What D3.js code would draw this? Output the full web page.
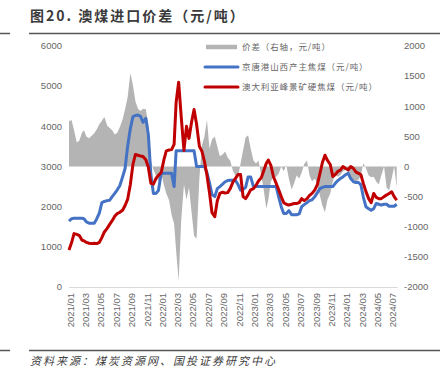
<!DOCTYPE html>
<html>
<head>
<meta charset="utf-8">
<script src="https://cdnjs.cloudflare.com/ajax/libs/d3/7.8.5/d3.min.js"></script>
<style>
  html, body { margin: 0; padding: 0; background: #fff; }
  svg { display: block; font-family: "Liberation Sans", Arial, sans-serif; }
</style>
</head>
<body>
<svg id="chart" width="445" height="378"></svg>
<script>
// ---------- data (sampled on the 1st, 11th and 21st of each month, 2021/01 .. 2024/07) ----------
const domesticCoking = [
  1640,1700,1710,1710,1710,1710,1700,1620,1590,1590,1590,1700,
  1840,2100,2130,2150,2160,2250,2330,2420,2520,2740,2950,3500,
  3950,4240,4270,4280,4250,4100,4200,3800,2800,2330,2330,2400,
  2830,2830,2830,2830,2830,2500,3390,3390,3390,3390,3390,3390,
  3390,3390,3000,3000,3000,3000,2850,2600,2300,2250,2450,2500,
  2560,2620,2650,2660,2660,2660,2550,2410,2430,2480,2740,2740,
  2500,2500,2500,2500,2500,2500,2500,2500,2500,2500,2240,2000,
  1830,1830,1900,1800,1800,1800,1820,2000,2050,2100,2150,2170,
  2250,2350,2450,2480,2500,2500,2500,2500,2580,2650,2700,2740,
  2800,2830,2700,2620,2600,2600,2550,2240,2000,1950,1910,1950,
  2080,2060,2040,2060,2060,2010,2010,2010,2060
];
const australianCoking = [
  920,1100,1330,1310,1280,1170,1150,1110,1090,1080,1090,1080,
  1110,1230,1370,1460,1560,1650,1760,1830,1860,1910,2030,2180,
  2560,3050,3300,3280,3260,3250,3170,2980,2580,2560,2700,2780,
  2850,3150,3390,3410,3420,3550,4600,5100,4250,3400,4000,3700,
  4100,4420,4050,3500,3380,3130,2780,2350,1850,1750,2150,2330,
  2360,2340,2350,2450,2600,2700,2800,2800,2250,2200,2300,2420,
  2450,2530,2640,2720,2900,3080,3160,3030,2750,2580,2420,2250,
  2100,2060,2040,2060,2080,2080,2100,2200,2150,2200,2280,2330,
  2420,2550,2820,3100,3280,3150,3050,2750,2800,2880,2910,3000,
  2950,2920,3000,2950,2860,2830,2800,2580,2380,2200,2100,2330,
  2230,2200,2200,2250,2290,2330,2370,2250,2160
];
const spread = [
  750,770,600,400,430,560,600,500,470,510,550,620,
  700,760,820,680,640,600,530,560,650,780,950,1150,
  1550,1350,1080,960,920,960,950,700,100,-50,-150,-250,
  -100,-300,-450,-560,-800,-950,-1400,-1900,-900,-300,-550,-350,
  -750,-1150,-1200,-200,350,500,770,300,450,500,330,170,
  200,250,150,100,-60,-150,-170,50,270,480,520,300,
  100,50,100,-150,-400,-700,-550,-250,-180,-170,-120,0,
  -80,30,-200,-380,-280,-150,-200,-100,40,100,-150,-250,
  -200,-300,-480,-650,-760,-550,-450,-250,-120,-170,-140,-80,
  -60,-100,-180,-220,-250,-220,-150,50,-20,-150,-180,-170,
  -250,-300,-150,0,-350,-400,-200,0,-350
];
const tickLabels = ["2021/01","2021/03","2021/05","2021/07","2021/09","2021/11",
  "2022/01","2022/03","2022/05","2022/07","2022/09","2022/11",
  "2023/01","2023/03","2023/05","2023/07","2023/09","2023/11",
  "2024/01","2024/03","2024/05","2024/07"];
const leftTicks = [0,1000,2000,3000,4000,5000,6000];
const rightTicks = [-2000,-1500,-1000,-500,0,500,1000,1500,2000];
const legendLabels = ["价差（右轴，元/吨）","京唐港山西产主焦煤（元/吨）","澳大利亚峰景矿硬焦煤（元/吨）"];
const titleText = "图20. 澳煤进口价差（元/吨）";
const sourceText = "资料来源：煤炭资源网、国投证券研究中心";

// dates: 1st, 11th, 21st of each month
const dates = domesticCoking.map((_, k) => new Date(2021, Math.floor(k / 3), 1 + 10 * (k % 3)));

// ---------- drawing ----------
const svg = d3.select("#chart");
const plotL = 69, plotR = 396.7, plotT = 46, plotB = 287;

const x = d3.scaleTime().domain([new Date(2021,0,1), new Date(2024,6,21)]).range([plotL, plotR]);
const yL = d3.scaleLinear().domain([0, 6000]).range([plotB, plotT]);
const yR = d3.scaleLinear().domain([-2000, 2000]).range([plotB, plotT]);

// title & rules
svg.append("text").attr("x", 30).attr("y", 21)
  .attr("font-size", 14).attr("font-weight", "bold").attr("fill", "#3a3a3a")
  .attr("letter-spacing", 2)
  .style("font-family", "'Noto Sans CJK SC', sans-serif")
  .text(titleText);
[[0,10],[29,440]].forEach(([a,b]) => {
  svg.append("line").attr("x1", a).attr("x2", b).attr("y1", 33.5).attr("y2", 33.5)
    .attr("stroke", "#555").attr("stroke-width", 1.5);
  svg.append("line").attr("x1", a).attr("x2", b).attr("y1", 350.5).attr("y2", 350.5)
    .attr("stroke", "#555").attr("stroke-width", 1.5);
});
svg.append("text").attr("x", 30).attr("y", 365)
  .attr("font-size", 11).attr("fill", "#404040").attr("font-style", "italic")
  .attr("letter-spacing", 2)
  .style("font-family", "'Noto Sans CJK SC', sans-serif")
  .text(sourceText);

// spread area (right axis)
const area = d3.area()
  .x((d, i) => x(dates[i]))
  .y0(yR(0))
  .y1(d => yR(d));
svg.append("path").datum(spread).attr("d", area).attr("fill", "#b4b4b4");

// x axis line
svg.append("line").attr("x1", plotL).attr("x2", plotR + 1).attr("y1", plotB + 0.5).attr("y2", plotB + 0.5)
  .attr("stroke", "#d9d9d9").attr("stroke-width", 1);

// lines
const lineGen = d3.line().x((d, i) => x(dates[i])).y(d => yL(d)).curve(d3.curveLinear);
svg.append("path").datum(domesticCoking).attr("d", lineGen)
  .attr("fill", "none").attr("stroke", "#4472c4").attr("stroke-width", 3).attr("stroke-linejoin", "round");
svg.append("path").datum(australianCoking).attr("d", lineGen)
  .attr("fill", "none").attr("stroke", "#c00000").attr("stroke-width", 3).attr("stroke-linejoin", "round");

// left axis labels
svg.append("g").selectAll("text").data(leftTicks).join("text")
  .attr("x", 62).attr("y", d => yL(d)).attr("dy", "0.35em")
  .attr("text-anchor", "end").attr("font-size", 9.5).attr("fill", "#666")
  .text(d => d);

// right axis labels
svg.append("g").selectAll("text").data(rightTicks).join("text")
  .attr("x", 404).attr("y", d => yR(d)).attr("dy", "0.35em")
  .attr("text-anchor", "start").attr("font-size", 9.5).attr("fill", "#666")
  .text(d => d);

// x tick labels (rotated)
const parse = d3.timeParse("%Y/%m");
svg.append("g").selectAll("text").data(tickLabels).join("text")
  .attr("transform", d => `translate(${x(parse(d)) + 1.5},${plotB + 6}) rotate(-90)`)
  .attr("dy", "0.35em").attr("text-anchor", "end")
  .attr("font-size", 9.5).attr("fill", "#666")
  .text(d => d);

// legend
const legend = svg.append("g");
const legY = [47, 67, 87];
legend.append("line").attr("x1", 206).attr("x2", 237).attr("y1", legY[0]).attr("y2", legY[0])
  .attr("stroke", "#b4b4b4").attr("stroke-width", 4.5);
legend.append("line").attr("x1", 205).attr("x2", 238).attr("y1", legY[1]).attr("y2", legY[1])
  .attr("stroke", "#4472c4").attr("stroke-width", 3).attr("stroke-linecap", "round");
legend.append("line").attr("x1", 205).attr("x2", 238).attr("y1", legY[2]).attr("y2", legY[2])
  .attr("stroke", "#c00000").attr("stroke-width", 3).attr("stroke-linecap", "round");
legend.selectAll("text").data(legendLabels).join("text")
  .attr("x", 242).attr("y", (d, i) => legY[i]).attr("dy", "0.35em")
  .attr("font-size", 8.5).attr("letter-spacing", 0.9).attr("fill", "#666")
  .style("font-family", "'Noto Sans CJK SC', sans-serif")
  .text(d => d);
</script>
</body>
</html>
